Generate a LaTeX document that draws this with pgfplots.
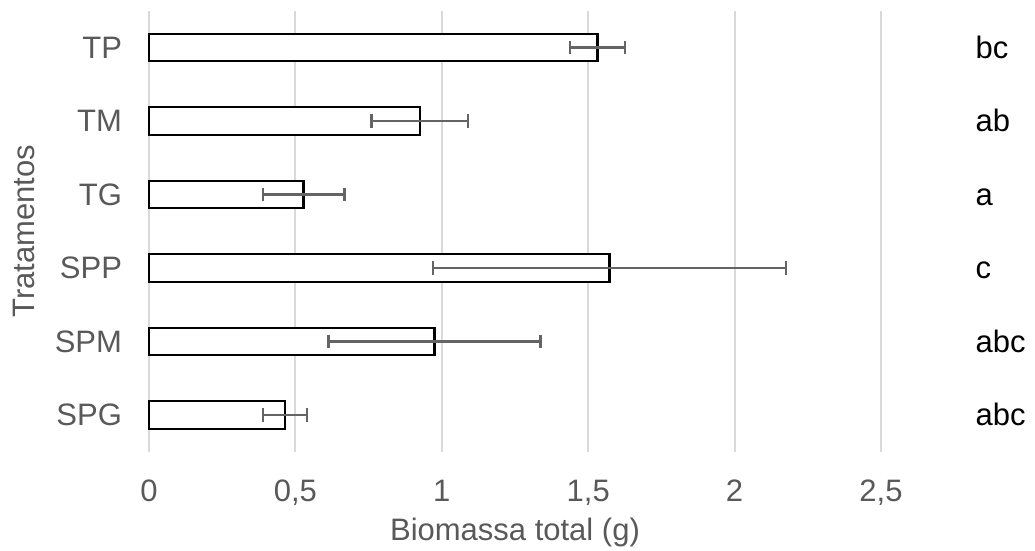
\documentclass[border=0pt]{standalone}
\usepackage{pgfplots}
\pgfplotsset{compat=1.18}
\usepackage{fontspec}
\setmainfont{Liberation Sans}
\definecolor{txtgray}{HTML}{595959}
\definecolor{gridgray}{HTML}{D9D9D9}
\definecolor{errgray}{HTML}{646464}
\begin{document}
\begin{tikzpicture}
\begin{axis}[
  at={(0,0)}, anchor=south west,
  scale only axis,
  width=366pt, height=220.5pt,
  xmin=0, xmax=2.5,
  ymin=-0.5, ymax=5.5,
  xbar, bar width=13.75pt,
  axis line style={draw=none},
  major tick length=0pt,
  xtick={0,0.5,1,1.5,2,2.5},
  ytick={0,1,2,3,4,5},
  yticklabels={SPG,SPM,SPP,TG,TM,TP},
  xmajorgrids, grid style={gridgray, line width=1pt},
  /pgf/number format/assume math mode=true,
  /pgf/number format/use comma,
  ticklabel style={font=\fontsize{15.5}{18}\selectfont, text=txtgray},
  xticklabel style={yshift=-10.5pt},
  yticklabel style={xshift=-10pt},
  xlabel={Biomassa total (g)},
  ylabel={Tratamentos},
  label style={font=\fontsize{15.5}{18}\selectfont, text=txtgray},
  xlabel style={yshift=0.5pt},
  ylabel style={yshift=3pt},
  clip=false,
]
\addplot[draw=black, fill=white, line width=1.1pt,
  error bars/.cd, x dir=both, x explicit,
  error bar style={errgray, line width=1.1pt},
  error mark options={errgray, line width=1.1pt, mark size=3.4pt, rotate=90}]
  coordinates {
  (0.464,0) +- (0.076,0)
  (0.975,1) +- (0.362,0)
  (1.573,2) +- (0.602,0)
  (0.528,3) +- (0.140,0)
  (0.925,4) +- (0.165,0)
  (1.532,5) +- (0.094,0)
  };
\begin{scope}[every node/.style={anchor=base west, inner sep=0pt, yshift=-5.25pt, font=\fontsize{15.5}{18}\selectfont, text=black}]
\node at (axis cs:2.822,5) {bc};
\node at (axis cs:2.822,4) {ab};
\node at (axis cs:2.822,3) {a};
\node at (axis cs:2.822,2) {c};
\node at (axis cs:2.822,1) {abc};
\node at (axis cs:2.822,0) {abc};
\end{scope}
\end{axis}
\pgfresetboundingbox
\path (-74.5pt,-49.6pt) rectangle (443pt,225.9pt);
\end{tikzpicture}
\end{document}
